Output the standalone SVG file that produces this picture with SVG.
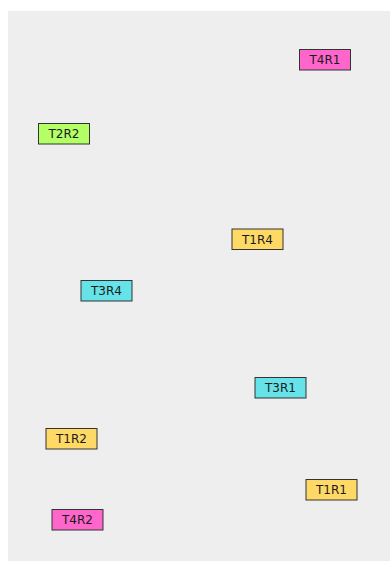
<svg xmlns="http://www.w3.org/2000/svg" width="390" height="561" viewBox="0 0 390 561">
<style>
.n rect{stroke:#333;stroke-width:1}
.n text{font-family:"DejaVu Sans",sans-serif;font-size:12px;fill:#1a1a1a;text-anchor:middle;dominant-baseline:central}
.pk{fill:#ff66cc}.gr{fill:#b3ff66}.ye{fill:#ffd966}.cy{fill:#66e3e8}
</style>
<rect x="8" y="11" width="382" height="550" fill="#eeeeee"/>
<g id="connectors"/>
<g id="T4R1" class="n"><rect class="pk" x="299.5" y="49.5" width="51" height="20.5"/><text x="325" y="60">T4R1</text></g>
<g id="T2R2" class="n"><rect class="gr" x="38.5" y="123.5" width="51" height="20.5"/><text x="64" y="134">T2R2</text></g>
<g id="T1R4" class="n"><rect class="ye" x="232" y="229" width="51" height="20.5"/><text x="257.5" y="239.5">T1R4</text></g>
<g id="T3R4" class="n"><rect class="cy" x="81" y="280.5" width="51" height="20.5"/><text x="106.5" y="291">T3R4</text></g>
<g id="T3R1" class="n"><rect class="cy" x="255" y="377.5" width="51" height="20.5"/><text x="280.5" y="388">T3R1</text></g>
<g id="T1R2" class="n"><rect class="ye" x="46" y="428.5" width="51" height="20.5"/><text x="71.5" y="439">T1R2</text></g>
<g id="T1R1" class="n"><rect class="ye" x="306" y="479.5" width="51" height="20.5"/><text x="331.5" y="490">T1R1</text></g>
<g id="T4R2" class="n"><rect class="pk" x="52" y="509.5" width="51" height="20.5"/><text x="77.5" y="520">T4R2</text></g>
</svg>
